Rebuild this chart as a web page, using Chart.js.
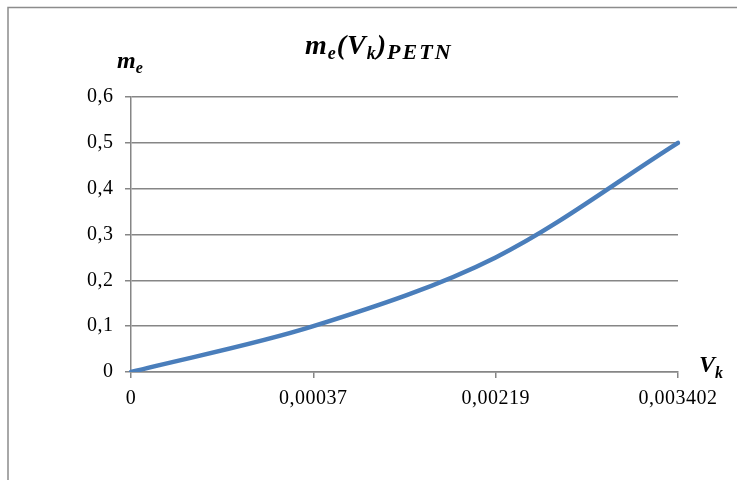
<!DOCTYPE html>
<html><head><meta charset="utf-8">
<script src="https://cdn.jsdelivr.net/npm/chart.js@4"></script>
<style>html,body{margin:0;padding:0;background:#fff;}canvas{display:block;}</style>
</head><body>
<canvas id="c" width="737" height="480"></canvas>
<script>
const categories = ['0', '0,00037', '0,00219', '0,003402'];
const meValues = [0, 0.1, 0.25, 0.5];
const yTickValues = [0, 0.1, 0.2, 0.3, 0.4, 0.5, 0.6];
const yTickLabels = ['0', '0,1', '0,2', '0,3', '0,4', '0,5', '0,6'];

const SERIF = '"Liberation Serif", "Times New Roman", serif';
const GRID = '#868686';

function drawRich(ctx, x, y, parts) {
  let cx = x;
  for (const p of parts) {
    ctx.font = 'italic bold ' + p.size + 'px ' + SERIF;
    ctx.letterSpacing = (p.ls || 0) + 'px';
    ctx.fillText(p.t, cx, y + (p.dy || 0));
    cx += ctx.measureText(p.t).width + (p.gap || 0);
  }
  ctx.letterSpacing = '0px';
}

const decor = {
  id: 'decor',
  beforeDraw(chart) {
    const ctx = chart.ctx;
    ctx.save();
    ctx.fillStyle = '#fff';
    ctx.fillRect(0, 0, chart.width, chart.height);
    ctx.strokeStyle = '#8c8c8c';
    ctx.lineWidth = 1.5;
    ctx.beginPath();
    ctx.moveTo(8, chart.height + 5);
    ctx.lineTo(8, 7.5);
    ctx.lineTo(chart.width + 5, 7.5);
    ctx.stroke();
    ctx.restore();
    ctx.letterSpacing = '0.5px';
  },
  afterDraw(chart) {
    const ctx = chart.ctx;
    ctx.save();
    ctx.fillStyle = '#000';
    ctx.textBaseline = 'alphabetic';
    // title
    drawRich(ctx, 305, 54, [
      {t: 'm', size: 28, ls: 1},
      {t: 'e', size: 18, dy: 5, ls: 1},
      {t: '(V', size: 28, ls: 1},
      {t: 'k', size: 18, dy: 5, ls: 1},
      {t: ')', size: 28, ls: 1},
      {t: 'PETN', size: 22, dy: 5, ls: 2}
    ]);
    // y axis title
    drawRich(ctx, 117, 68, [
      {t: 'm', size: 24},
      {t: 'e', size: 16, dy: 5}
    ]);
    // x axis title
    drawRich(ctx, 699, 372, [
      {t: 'V', size: 24},
      {t: 'k', size: 16, dy: 6}
    ]);
    ctx.restore();
    ctx.letterSpacing = '0px';
  }
};

new Chart(document.getElementById('c'), {
  type: 'line',
  data: {
    labels: categories,
    datasets: [{
      data: meValues,
      borderColor: '#4A7EBB',
      borderWidth: 4.5,
      pointRadius: 0,
      pointHoverRadius: 0,
      tension: 0.33,
      fill: false,
      borderCapStyle: 'round'
    }]
  },
  options: {
    responsive: false,
    animation: false,
    events: [],
    layout: { padding: { left: 0, right: 59, top: 97, bottom: 0 } },
    plugins: { legend: { display: false }, tooltip: { enabled: false }, title: { display: false } },
    scales: {
      x: {
        type: 'category',
        offset: false,
        grid: { display: true, drawOnChartArea: false, drawTicks: true, tickLength: 6, color: GRID, lineWidth: 1.5 },
        border: { display: true, color: GRID, width: 1.5 },
        ticks: { color: '#000', font: { family: SERIF, size: 20 }, padding: 9, maxRotation: 0, autoSkip: false },
        afterFit(s) { s.height = 108; }
      },
      y: {
        min: 0, max: 0.6,
        afterBuildTicks(s) { s.ticks = yTickValues.map(v => ({ value: v })); },
        grid: { display: true, drawOnChartArea: true, drawTicks: true, tickLength: 6, color: GRID, lineWidth: 1.5 },
        border: { display: true, color: GRID, width: 1.5 },
        ticks: {
          color: '#000', font: { family: SERIF, size: 20 }, padding: 11.5,
          callback(v, i) { return yTickLabels[i]; }
        },
        afterFit(s) { s.width = 131; }
      }
    }
  },
  plugins: [decor]
});
</script>
</body></html>
